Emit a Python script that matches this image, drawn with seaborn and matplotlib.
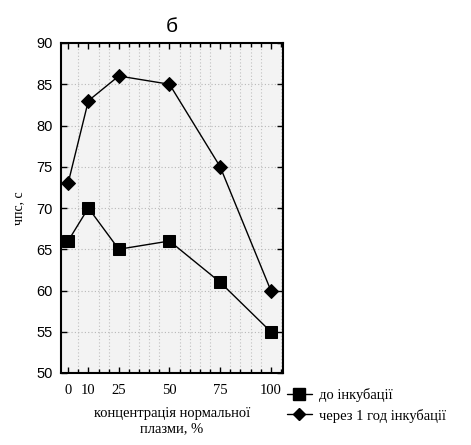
import matplotlib
matplotlib.use("Agg")
import matplotlib.pyplot as plt
import seaborn as sns
import pandas as pd
from matplotlib.ticker import MultipleLocator, FixedLocator
from matplotlib.lines import Line2D

concentration = [0, 10, 25, 50, 75, 100]
before_incubation = [66, 70, 65, 66, 61, 55]
after_1h_incubation = [73, 83, 86, 85, 75, 60]
series_names = ["до інкубації", "через 1 год інкубації"]
x_ticks = [0, 10, 25, 50, 75, 100]
y_ticks = [50, 55, 60, 65, 70, 75, 80, 85, 90]

df = pd.DataFrame({
    "x": concentration * 2,
    "y": before_incubation + after_1h_incubation,
    "series": [series_names[0]] * len(concentration) + [series_names[1]] * len(concentration),
})

sns.set_theme(style="white")
plt.rcParams["font.family"] = ["Liberation Serif", "DejaVu Serif"]
plt.rcParams["text.color"] = "black"
plt.rcParams["axes.labelcolor"] = "black"
plt.rcParams["xtick.color"] = "black"
plt.rcParams["ytick.color"] = "black"

fig = plt.figure(figsize=(4.71, 4.45), dpi=100)
fig.patch.set_facecolor("white")
ax = fig.add_axes([61 / 471, 1 - 373 / 445, (283 - 61) / 471, (373 - 43) / 445])
ax.set_facecolor("#f3f3f3")

sns.lineplot(
    data=df, x="x", y="y", hue="series", style="series",
    palette={series_names[0]: "black", series_names[1]: "black"},
    markers={series_names[0]: "s", series_names[1]: "D"},
    dashes={series_names[0]: "", series_names[1]: ""},
    markersize=8, linewidth=1.0, ax=ax, legend=False,
)
for line in ax.get_lines():
    if line.get_marker() == "D":
        line.set_markersize(7)
    line.set_markeredgecolor("black")

ax.set_xlim(-3.5, 106)
ax.set_ylim(50, 90)
ax.xaxis.set_major_locator(FixedLocator(x_ticks))
ax.xaxis.set_minor_locator(MultipleLocator(5))
ax.yaxis.set_major_locator(FixedLocator(y_ticks))
ax.tick_params(which="both", direction="in", top=True, right=True, bottom=True, left=True,
               color="black", labelcolor="black")
ax.tick_params(which="major", length=4, width=1)
ax.tick_params(which="minor", length=3, width=1)
ax.tick_params(axis="x", labelsize=10.5, pad=8)
ax.tick_params(axis="y", labelsize=10.5, pad=6)
for lbl in ax.get_yticklabels():
    lbl.set_fontfamily(["Liberation Sans", "DejaVu Sans"])

ax.grid(True, which="major", axis="y", color="#b8b8b8", linestyle=(0, (1, 2)), linewidth=0.8)
ax.grid(True, which="minor", axis="x", color="#c0c0c0", linestyle=(0, (1, 2)), linewidth=0.8)
ax.grid(False, which="major", axis="x")

for sp in ax.spines.values():
    sp.set_color("black")
    sp.set_linewidth(1.5)

ax.set_xlabel("концентрація нормальної\nплазми, %", fontsize=10.5, labelpad=7, color="black")
ax.set_ylabel("чпс, с", fontsize=10, labelpad=8, color="black")
ax.set_title("б", fontsize=15, pad=8, color="black", fontfamily=["Liberation Sans", "DejaVu Sans"])

h1 = Line2D([], [], color="black", marker="s", markersize=8, linewidth=1.0)
h2 = Line2D([], [], color="black", marker="D", markersize=6, linewidth=1.0)
fig.legend([h1, h2], series_names, loc="upper left",
           bbox_to_anchor=(287 / 471, 1 - 388 / 445), frameon=False,
           fontsize=10.5, handlelength=1.7, handletextpad=0.5, labelspacing=0.45,
           borderpad=0, borderaxespad=0, labelcolor="black")

fig.savefig("out.png", dpi=100, facecolor="white")
